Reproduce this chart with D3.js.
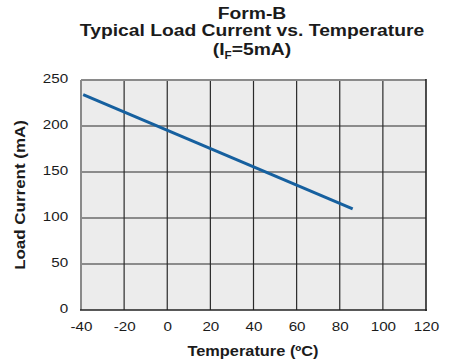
<!DOCTYPE html>
<html><head><meta charset="utf-8">
<script src="https://d3js.org/d3.v7.min.js"></script>
<style>
  body { margin:0; background:#fff; }
  text { font-family:"Liberation Sans", Arial, sans-serif; fill:#1b1b1b; }
</style></head>
<body>
<script>
// data
const temps = [-39, 86];
const loadCurrent = [234, 110];
const xTicks = [-40, -20, 0, 20, 40, 60, 80, 100, 120];
const yTicks = [0, 50, 100, 150, 200, 250];
const titleLines = ['Form-B', 'Typical Load Current vs. Temperature'];

const W = 451, H = 364;
const stretch = 1.17; // the original lettering is a bit wider than Arial

svg = d3.select('body').append('svg')
    .attr('width', W)
    .attr('height', H)

x = d3.scaleLinear().domain([-40, 120]).range([81, 426])
y = d3.scaleLinear().domain([0, 250]).range([310, 80])

// plot background
svg.append('rect')
    .attr('x', x(-40)).attr('y', y(250))
    .attr('width', x(120) - x(-40)).attr('height', y(0) - y(250))
    .attr('fill', '#ececec')

// grid
svg.append('g').selectAll('line').data(xTicks.slice(1, -1)).join('line')
    .attr('x1', d => x(d)).attr('x2', d => x(d))
    .attr('y1', y(250)).attr('y2', y(0))
    .attr('stroke', '#2a2a2a').attr('stroke-width', 1.2)
svg.append('g').selectAll('line').data(yTicks.slice(1, -1)).join('line')
    .attr('x1', x(-40)).attr('x2', x(120))
    .attr('y1', d => y(d)).attr('y2', d => y(d))
    .attr('stroke', '#2a2a2a').attr('stroke-width', 1.2)

// frame: light on top/left, dark on right/bottom
svg.append('line').attr('x1', x(-40)).attr('x2', x(120)).attr('y1', y(250)).attr('y2', y(250))
    .attr('stroke', '#8a8a8a').attr('stroke-width', 2)
svg.append('line').attr('x1', x(-40)).attr('x2', x(-40)).attr('y1', y(250)).attr('y2', y(0))
    .attr('stroke', '#8a8a8a').attr('stroke-width', 2)
svg.append('line').attr('x1', x(120)).attr('x2', x(120)).attr('y1', y(250) - 1).attr('y2', y(0) + 1)
    .attr('stroke', '#222').attr('stroke-width', 1.6)
svg.append('line').attr('x1', x(-40) - 1).attr('x2', x(120) + 1).attr('y1', y(0)).attr('y2', y(0))
    .attr('stroke', '#222').attr('stroke-width', 1.6)

// the curve
svg.append('path')
    .datum(temps.map((t, i) => [t, loadCurrent[i]]))
    .attr('fill', 'none')
    .attr('stroke', '#16609f')
    .attr('stroke-width', 3)
    .attr('d', d3.line().x(d => x(d[0])).y(d => y(d[1])))

// axes (labels only), plain hyphen for negatives
xaxis = d3.axisBottom(x).tickValues(xTicks).tickFormat(d => String(d)).tickSize(0).tickPadding(12)
yaxis = d3.axisLeft(y).tickValues(yTicks).tickFormat(d => String(d)).tickSize(0).tickPadding(11)

gx = svg.append('g').attr('transform', `translate(0,${y(0)})`).call(xaxis)
gy = svg.append('g').attr('transform', `translate(${x(-40)},0)`).call(yaxis)
;[gx, gy].forEach(g => {
    g.select('.domain').remove()
    g.selectAll('text')
        .attr('font-family', null)
        .attr('font-size', 13)
        .attr('fill', '#1b1b1b')
        .attr('transform', `scale(${stretch},1)`)
})
gy.selectAll('text').attr('dy', '0.2em')

function label(px, py, str, size, rot) {
    const g = svg.append('g')
        .attr('transform', `translate(${px},${py}) rotate(${rot || 0}) scale(${stretch},1)`)
    return g.append('text')
        .attr('text-anchor', 'middle')
        .attr('font-weight', 'bold')
        .attr('font-size', size)
        .text(str)
}

// titles
label(252, 19, titleLines[0], 16.5)
label(252, 36, titleLines[1], 16.5)
t3 = label(252, 55, '(I', 16.5)
t3.append('tspan').attr('font-size', 10).attr('dy', 4).text('F')
t3.append('tspan').attr('dy', -4).text('=5mA)')

label(253, 356, 'Temperature (ºC)', 14)
label(25, 195, 'Load Current (mA)', 14.5, -90)
</script>
</body></html>
